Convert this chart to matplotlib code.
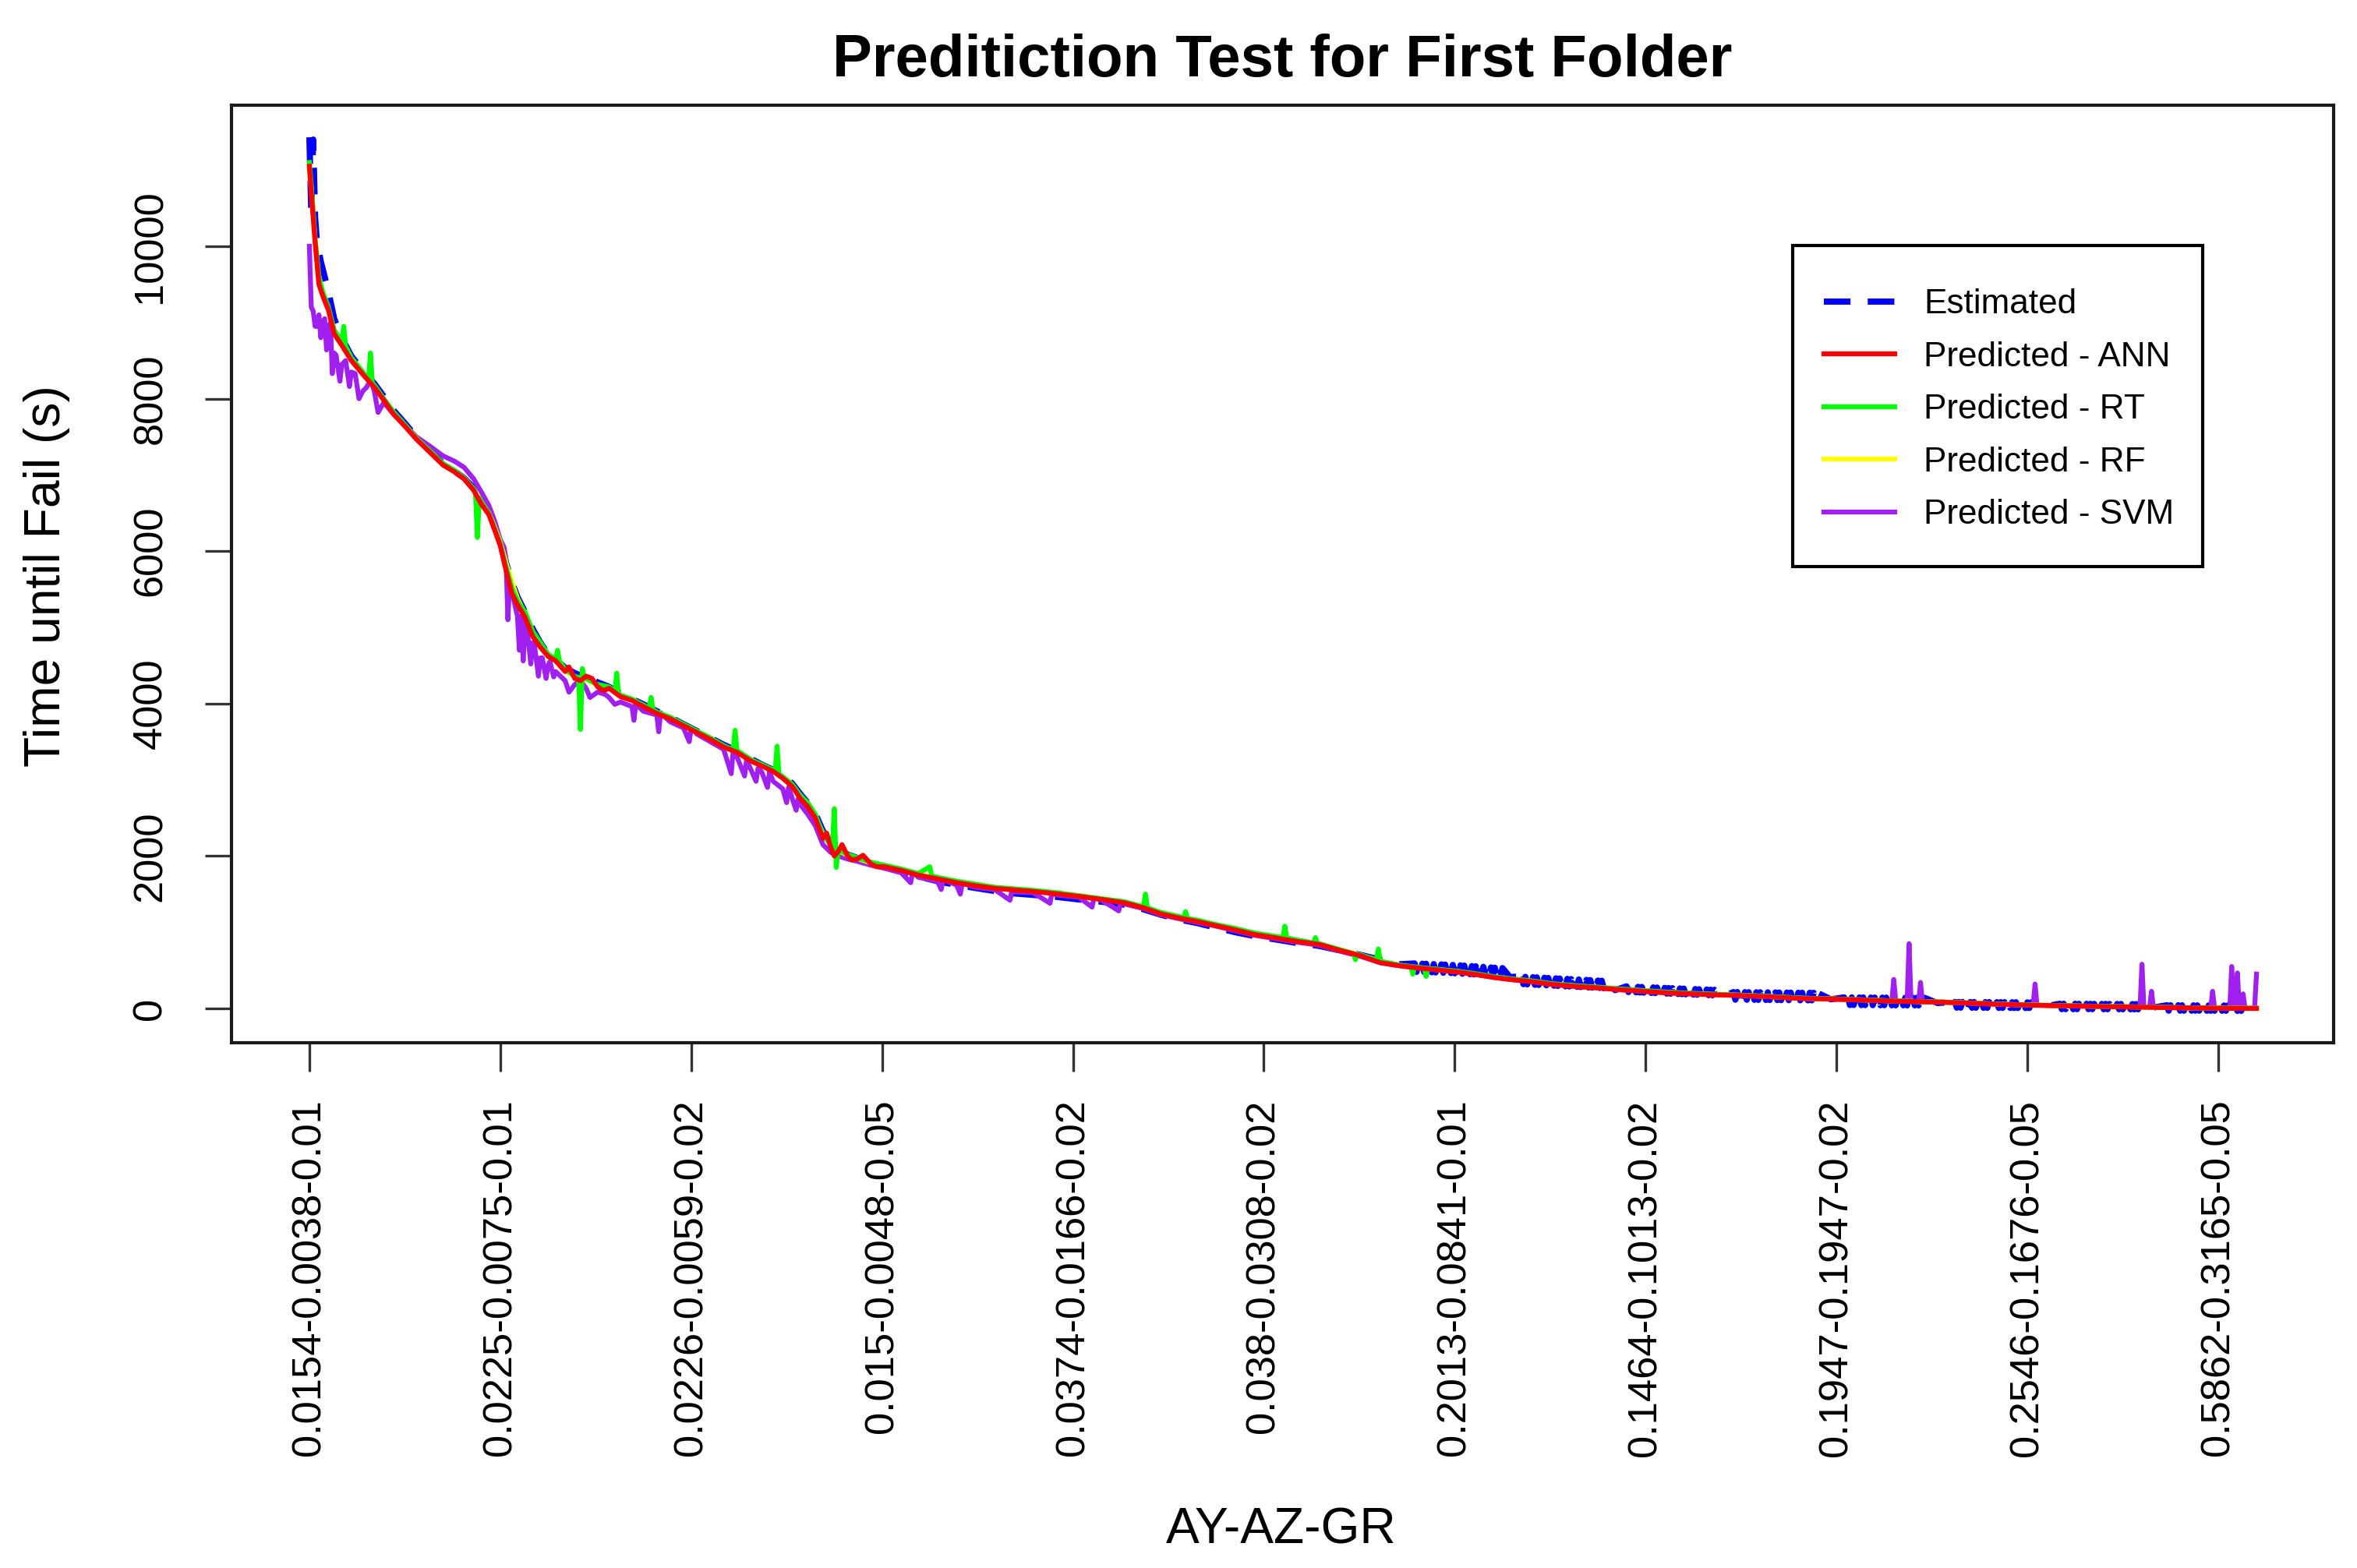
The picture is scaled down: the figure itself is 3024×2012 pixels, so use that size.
import numpy as np
import matplotlib
matplotlib.use("Agg")
import matplotlib.pyplot as plt
from matplotlib.patches import Rectangle

plt.rcParams['font.family'] = ['Liberation Sans', 'DejaVu Sans']
plt.rcParams['lines.scale_dashes'] = False

TITLE = "Preditiction Test for First Folder"
X_LABEL = "AY-AZ-GR"
Y_LABEL = "Time until Fail (s)"
TICK_POS = [1, 101, 201, 301, 401, 501, 601, 701, 801, 901, 1001]
TICK_LABELS = ["0.0154-0.0038-0.01", "0.0225-0.0075-0.01", "0.0226-0.0059-0.02",
               "0.015-0.0048-0.05", "0.0374-0.0166-0.02", "0.038-0.0308-0.02",
               "0.2013-0.0841-0.01", "0.1464-0.1013-0.02", "0.1947-0.1947-0.02",
               "0.2546-0.1676-0.05", "0.5862-0.3165-0.05"]
Y_TICKS = [0, 2000, 4000, 6000, 8000, 10000]
SERIES_NAMES = ["Estimated", "Predicted - ANN", "Predicted - RT", "Predicted - RF", "Predicted - SVM"]

# common sample grid (row index of test case)
X_BASE = [1, 2, 4, 6, 8, 11, 14, 18, 23, 29,
          35, 40, 45, 51, 57, 64, 71, 77, 82, 87,
          91, 95, 98, 101, 104, 107, 110, 114, 118, 122,
          126, 130, 135, 140, 146, 152, 158, 164, 170, 176,
          183, 190, 197, 204, 211, 218, 225, 232, 238, 244,
          249, 254, 258, 262, 266, 270, 274, 278, 283, 288,
          295, 302, 311, 320, 330, 340, 350, 360, 370, 380,
          392, 404, 416, 428, 438, 447, 456, 466, 476, 486,
          496, 506, 518, 530, 541, 552, 562, 572, 582, 592,
          602, 612, 622, 632, 642, 652, 664, 676, 688, 700,
          712, 724, 736, 748, 760, 772, 784, 796, 808, 820,
          832, 844, 856, 868, 880, 892, 904, 916, 928, 940,
          952, 964, 976, 988, 1000, 1010, 1021]

ANN = [11050, 10700, 10050, 9500, 9350, 9160, 8850, 8700, 8500, 8320,
       8150, 7980, 7800, 7640, 7470, 7300, 7130, 7040, 6950, 6800,
       6620, 6480, 6280, 6070, 5750, 5450, 5300, 5130, 4880, 4740,
       4620, 4560, 4420, 4330, 4360, 4220, 4200, 4090, 4040, 3960,
       3870, 3800, 3710, 3620, 3530, 3430, 3360, 3250, 3180, 3110,
       3020, 2910, 2760, 2650, 2500, 2230, 2120, 2060, 2000, 1960,
       1900, 1860, 1810, 1750, 1700, 1650, 1610, 1575, 1555, 1535,
       1505, 1470, 1430, 1385, 1320, 1240, 1190, 1140, 1085, 1030,
       970, 930, 880, 840, 760, 690, 600, 560, 530, 505,
       480, 445, 405, 375, 350, 315, 290, 270, 245, 225,
       205, 192, 180, 172, 160, 145, 130, 125, 115, 105,
       95, 88, 82, 72, 60, 50, 42, 36, 30, 25,
       20, 15, 10, 6, 3, 1, 0]
ANN_EXTRA_X = [137, 143, 149, 155, 272, 276, 280, 285, 291, 298]
ANN_EXTRA_Y = [4480, 4300, 4330, 4170, 2300, 2000, 2150, 1950, 2010, 1860]

RT = [11100, 10800, 10100, 9600, 9400, 9200, 8900, 8750, 8540, 8350,
      8180, 8000, 7830, 7660, 7480, 7320, 7150, 7060, 6960, 6820,
      6650, 6500, 6300, 6100, 5800, 5520, 5350, 5200, 4950, 4800,
      4650, 4580, 4450, 4360, 4330, 4250, 4220, 4110, 4060, 3980,
      3890, 3820, 3730, 3640, 3550, 3450, 3380, 3270, 3200, 3130,
      3040, 2940, 2800, 2700, 2550, 2280, 2150, 2080, 2020, 1980,
      1920, 1880, 1830, 1770, 1720, 1670, 1630, 1590, 1570, 1550,
      1520, 1480, 1440, 1400, 1340, 1260, 1210, 1160, 1100, 1050,
      990, 950, 900, 850, 770, 700, 620, 570, 540, 515,
      490, 455, 415, 385, 360, 325, 300, 280, 255, 235,
      215, 200, 188, 178, 165, 150, 135, 128, 118, 108,
      98, 90, 84, 74, 62, 52, 44, 38, 32, 27,
      22, 17, 12, 8, 5, 3, 2]
RT_EXTRA_X = [19, 20, 32, 33, 34, 88, 89, 90, 131, 132,
              142, 143, 144, 145, 161, 162, 163, 179, 180, 181,
              223, 224, 226, 245, 246, 247, 275, 276, 277, 279,
              326, 327, 437, 439, 440, 459, 460, 461, 511, 512,
              513, 527, 528, 529, 548, 549, 550, 560, 561, 563,
              578, 579, 580, 585, 586, 587]
RT_EXTRA_Y = [8950, 8690, 8230, 8600, 8200, 6780, 6180, 6700, 4700, 4560,
              4340, 3660, 4460, 4340, 4150, 4400, 4120, 3940, 4080, 3920,
              3390, 3650, 3370, 3110, 3440, 3080, 2130, 2620, 1850, 2070,
              1860, 1740, 1340, 1500, 1320, 1190, 1270, 1180, 930, 1080,
              925, 860, 930, 855, 720, 640, 710, 640, 780, 615,
              550, 450, 545, 530, 420, 525]

RF = [11000, 10750, 10080, 9550, 9380, 9180, 8870, 8720, 8520, 8330,
      8160, 7990, 7810, 7650, 7480, 7310, 7140, 7050, 6960, 6810,
      6640, 6500, 6320, 6120, 5850, 5600, 5380, 5180, 4930, 4780,
      4640, 4570, 4440, 4350, 4320, 4240, 4210, 4100, 4050, 3970,
      3880, 3810, 3720, 3630, 3540, 3440, 3370, 3260, 3190, 3120,
      3030, 2930, 2800, 2680, 2530, 2300, 2150, 2070, 2010, 1970,
      1910, 1870, 1820, 1760, 1710, 1660, 1620, 1585, 1562, 1542,
      1512, 1476, 1436, 1392, 1330, 1250, 1200, 1150, 1092, 1038,
      978, 938, 888, 846, 768, 698, 610, 566, 536, 510,
      485, 450, 410, 380, 355, 320, 295, 275, 250, 230,
      210, 196, 184, 175, 163, 148, 133, 127, 117, 107,
      97, 90, 84, 74, 62, 52, 44, 38, 32, 27,
      22, 17, 12, 8, 5, 3, 1]

SVM = [10000, 9200, 8950, 9100, 9000, 8900, 8600, 8450, 8350, 8100,
       8100, 7950, 7800, 7660, 7500, 7380, 7250, 7180, 7100, 6950,
       6780, 6600, 6400, 6150, 5900, 5500, 5150, 5050, 4800, 4600,
       4500, 4420, 4300, 4250, 4200, 4150, 4080, 4020, 3960, 3900,
       3850, 3760, 3680, 3600, 3500, 3400, 3300, 3150, 3100, 2980,
       2880, 2750, 2680, 2550, 2400, 2150, 2050, 2000, 1960, 1930,
       1880, 1840, 1780, 1720, 1670, 1620, 1590, 1560, 1530, 1520,
       1490, 1460, 1420, 1370, 1310, 1230, 1180, 1130, 1080, 1020,
       960, 920, 870, 830, 750, 680, 600, 560, 530, 505,
       480, 445, 405, 375, 350, 315, 290, 270, 245, 225,
       205, 192, 180, 172, 160, 145, 130, 125, 115, 105,
       95, 88, 82, 72, 60, 50, 42, 36, 30, 25,
       20, 15, 10, 6, 3, 1, 450]
SVM_EXTRA_X = [3, 5, 7, 9, 10, 12, 13, 15, 17, 20,
               22, 25, 27, 31, 33, 37, 103, 105, 106, 109,
               111, 112, 113, 115, 117, 119, 121, 123, 125, 127,
               129, 137, 143, 148, 156, 161, 171, 172, 184, 185,
               200, 201, 222, 223, 229, 230, 235, 236, 241, 242,
               251, 252, 256, 257, 316, 317, 332, 333, 342, 343,
               368, 369, 389, 390, 411, 412, 425, 426, 830, 831,
               833, 838, 839, 840, 845, 846, 905, 906, 960, 961,
               962, 965, 966, 967, 997, 998, 999, 1007, 1008, 1009,
               1011, 1012, 1013, 1014, 1015, 1020]
SVM_EXTRA_Y = [9150, 8950, 8800, 9050, 8640, 9000, 8330, 8570, 8230, 8500,
               8160, 8330, 8000, 8150, 8250, 7820, 6050, 5100, 5650, 5250,
               4700, 5150, 4560, 5000, 4520, 4750, 4360, 4600, 4330, 4550,
               4350, 4150, 4300, 4080, 4120, 3990, 3780, 3990, 3630, 3880,
               3500, 3680, 3080, 3380, 3050, 3260, 2980, 3150, 2900, 3100,
               2700, 2900, 2600, 2750, 1650, 1790, 1560, 1690, 1500, 1640,
               1420, 1545, 1380, 1520, 1330, 1450, 1280, 1400, 100, 380,
               100, 95, 850, 95, 340, 85, 320, 42, 20, 580,
               20, 15, 225, 15, 5, 225, 5, 2, 550, 2,
               465, 1, 1, 190, 1, 5]

# Estimated: smooth part and the points between test blocks
EST_X = [1, 2, 3, 4, 5, 7, 9, 11, 14, 18,
         23, 29, 35, 40, 45, 51, 57, 64, 71, 77,
         82, 87, 91, 95, 98, 101, 104, 107, 110, 114,
         118, 122, 126, 130, 135, 140, 146, 152, 158, 164,
         170, 176, 183, 190, 197, 204, 211, 218, 225, 232,
         238, 244, 249, 254, 258, 262, 266, 270, 274, 278,
         283, 288, 295, 302, 311, 320, 330, 340, 350, 360,
         370, 380, 392, 404, 416, 428, 438, 447, 456, 466,
         476, 486, 496, 506, 518, 530, 541, 552, 562, 572,
         630, 685, 742, 798, 854, 911, 967]
EST_Y = [11430, 10450, 11400, 10380, 10050, 9800, 9600, 9400, 9050, 8800,
         8560, 8370, 8200, 8030, 7850, 7680, 7500, 7320, 7150, 7050,
         6960, 6830, 6680, 6520, 6350, 6150, 5850, 5600, 5400, 5200,
         4980, 4800, 4650, 4580, 4470, 4400, 4340, 4280, 4220, 4130,
         4060, 3990, 3900, 3820, 3730, 3640, 3550, 3460, 3380, 3280,
         3200, 3130, 3050, 2950, 2820, 2700, 2560, 2330, 2180, 2080,
         2020, 1975, 1910, 1860, 1800, 1730, 1670, 1620, 1580, 1540,
         1510, 1490, 1465, 1430, 1400, 1360, 1300, 1230, 1170, 1120,
         1060, 1000, 950, 910, 860, 820, 760, 700, 640, 580,
         410, 240, 160, 120, 70, 30, 12]

# Estimated inside each test block: one value per row, starting at the given row
EST_BLOCK_STARTS = [580, 634, 691, 747, 805, 861, 918, 974]
EST_BLOCK_A = [590, 480, 589, 479, 587, 477, 586, 476, 584, 474, 582, 472, 580, 470, 578, 468,
               576, 466, 574, 464, 571, 461, 568, 458, 565, 455, 562, 452, 559, 449, 556, 446,
               553, 443, 550, 440, 546, 438, 542, 436, 538, 434, 535, 432, 532, 430, 530]
EST_BLOCK_B = [420, 320, 418, 318, 415, 315, 413, 313, 410, 310, 408, 308, 405, 305, 403, 303,
               400, 300, 398, 298, 395, 295, 393, 293, 390, 290, 388, 288, 385, 285, 383, 283,
               380, 280, 378, 278, 375, 275, 372, 273, 369, 271, 366, 268, 364, 266, 362]
EST_BLOCK_C = [290, 215, 288, 213, 286, 211, 284, 209, 282, 207, 280, 205, 278, 203, 276, 201,
               274, 199, 272, 197, 270, 195, 268, 193, 266, 191, 264, 189, 262, 187, 260, 185,
               258, 183, 256, 181, 254, 179, 252, 177, 250, 175, 248, 174, 246, 172, 245]
EST_BLOCK_D = [215, 115, 215, 115, 214, 114, 214, 114, 213, 113, 213, 113, 212, 112, 212, 112,
               211, 111, 211, 111, 210, 110, 210, 110, 209, 109, 209, 109, 208, 108, 208, 108,
               207, 107, 207, 107, 206, 106, 206, 106, 206, 106, 205, 105, 205]
EST_BLOCK_E = [145, 45, 145, 45, 145, 45, 144, 44, 144, 44, 144, 44, 143, 43, 143, 43,
               143, 43, 142, 42, 142, 42, 142, 42, 141, 41, 141, 41, 141, 41, 141, 41,
               140, 40, 140, 40, 140, 40, 140, 40, 140, 40, 140]
EST_BLOCK_F = [85, 10, 85, 10, 85, 10, 85, 10, 84, 9, 84, 9, 84, 9, 84, 9,
               83, 8, 83, 8, 83, 8, 83, 8, 82, 7, 82, 7, 82, 7, 82, 7,
               81, 6, 81, 6, 81, 6, 80, 5, 80, 5, 80]
EST_BLOCK_G = [62, -10, 62, -10, 62, -10, 62, -10, 62, -10, 61, -10, 61, -10, 61, -10,
               61, -10, 60, -11, 60, -11, 60, -11, 60, -11, 59, -11, 59, -11, 59, -11,
               59, -11, 58, -12, 58, -12, 58, -12, 58, -12, 58]
EST_BLOCK_H = [42, -30, 42, -30, 42, -30, 42, -30, 42, -30, 41, -30, 41, -30, 41, -30,
               41, -30, 40, -31, 40, -31, 40, -31, 40, -31, 39, -31, 39, -31, 39, -31,
               39, -31, 38, -32, 38, -32, 38, -32, 38, -32, 38]
EST_BLOCKS = [EST_BLOCK_A, EST_BLOCK_B, EST_BLOCK_C, EST_BLOCK_D,
              EST_BLOCK_E, EST_BLOCK_F, EST_BLOCK_G, EST_BLOCK_H]

COLORS = {"est": "#0000FF", "ann": "#FF0000", "rt": "#00FF00", "rf": "#FFFF00", "svm": "#A020F0"}


def merged(xb, yb, xe, ye):
    x = np.concatenate([np.asarray(xb, float), np.asarray(xe, float)])
    y = np.concatenate([np.asarray(yb, float), np.asarray(ye, float)])
    order = np.argsort(x, kind="stable")
    return x[order], y[order]


blk_x = np.concatenate([s + np.arange(len(b)) for s, b in zip(EST_BLOCK_STARTS, EST_BLOCKS)])
blk_y = np.concatenate([np.asarray(b, float) for b in EST_BLOCKS])
ex, ey = merged(EST_X, EST_Y, blk_x, blk_y)

fig = plt.figure(figsize=(10.08, 6.7067), dpi=300)
ax = fig.add_axes([297 / 3024, 1 - 1338 / 2012, (2994 - 297) / 3024, (1338 - 135) / 2012])

lw = 1.5
h_est, = ax.plot(ex, ey, color=COLORS["est"], lw=1.9, linestyle=(0, (8.2, 5.3)))
sx, sy = merged(X_BASE, SVM, SVM_EXTRA_X, SVM_EXTRA_Y)
h_svm, = ax.plot(sx, sy, color=COLORS["svm"], lw=lw)
h_rf, = ax.plot(X_BASE, RF, color=COLORS["rf"], lw=lw)
rx, ry = merged(X_BASE, RT, RT_EXTRA_X, RT_EXTRA_Y)
h_rt, = ax.plot(rx, ry, color=COLORS["rt"], lw=lw)
axx, axy = merged(X_BASE, ANN, ANN_EXTRA_X, ANN_EXTRA_Y)
h_ann, = ax.plot(axx, axy, color=COLORS["ann"], lw=lw)

ax.set_xlim(-39.8, 1061.4)
ax.set_ylim(-450, 11851)

ax.set_xticks(TICK_POS)
ax.set_xticklabels(TICK_LABELS, rotation=90, fontsize=12.6)
ax.set_yticks(Y_TICKS)
ax.set_yticklabels([str(v) for v in Y_TICKS], rotation=90, va="center", fontsize=12.6)
ax.tick_params(axis="x", length=8.8, width=0.8, pad=8.6, color="#333333")
ax.tick_params(axis="y", length=8.2, width=0.8, pad=10.8, color="#333333")
for s in ax.spines.values():
    s.set_linewidth(1.0)
    s.set_color("#1a1a1a")

fig.text(1645 / 3024, 1 - 98 / 2012, TITLE, ha="center", va="baseline",
         fontsize=18.3, fontweight="bold")
fig.text(1644 / 3024, 1 - 1963 / 2012, X_LABEL, ha="center", va="center", fontsize=15.4)
fig.text(60 / 3024, 1 - 739 / 2012, Y_LABEL, ha="center", va="center",
         rotation=90, fontsize=15.4)

# legend box (frame drawn separately so the padding can differ per side)
box = Rectangle((2300 / 3024, 1 - 727 / 2012), 526 / 3024, 412 / 2012,
                transform=fig.transFigure, facecolor="white", edgecolor="black",
                linewidth=1.0, zorder=4.9, clip_on=False)
ax.add_artist(box)
leg = ax.legend([h_est, h_ann, h_rt, h_rf, h_svm], SERIES_NAMES,
                loc="upper left", bbox_to_anchor=(2340 / 3024, 1 - 370 / 2012),
                bbox_transform=fig.transFigure, borderaxespad=0, frameon=False,
                fontsize=10.6, handlelength=2.05, handletextpad=0.85, borderpad=0.0,
                labelspacing=0.6)
leg.set_zorder(5)

fig.savefig("out.png", dpi=300)
